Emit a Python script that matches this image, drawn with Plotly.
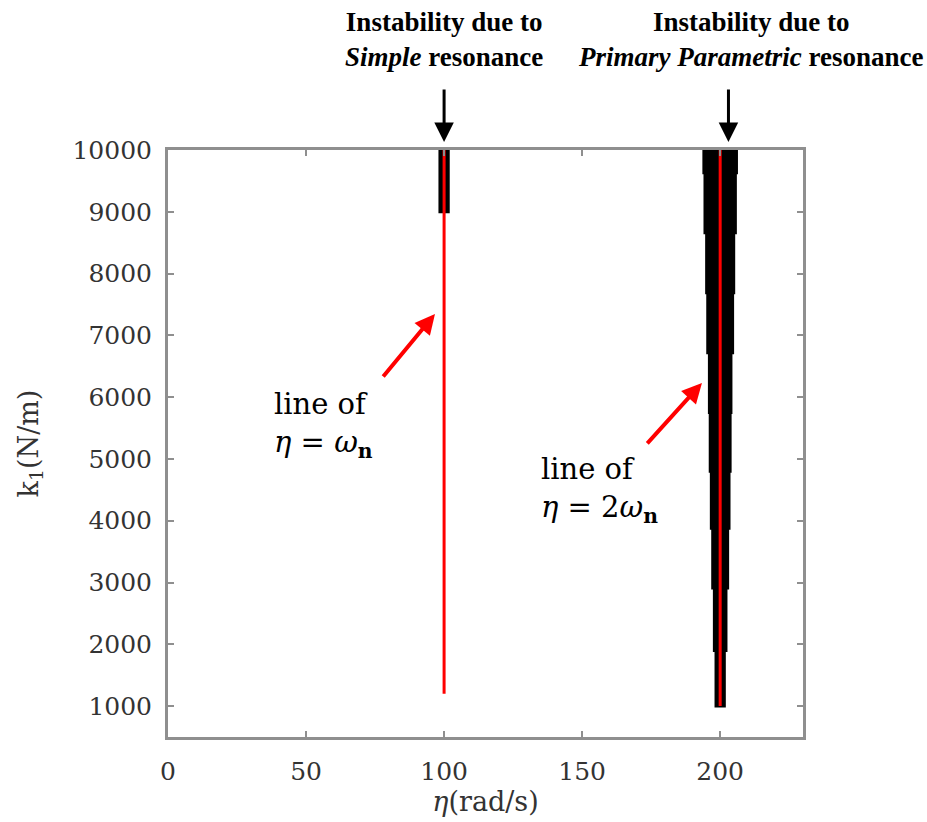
import plotly.graph_objects as go

# ---- data ----
# Primary parametric instability band around eta = 200 rad/s (stepwise taper)
k_bounds_pp = [10000, 9630, 8660, 7690, 6720, 5750, 4800, 3880, 2910, 1900, 1000]
halfwidth_pp = [6.4, 6.0, 5.4, 5.0, 4.4, 4.1, 3.7, 3.2, 2.6, 2.0]
eta_pp = 200.0

# Simple resonance instability band around eta = 100 rad/s
k_bounds_simple = [10000, 9000]
halfwidth_simple = [2.0]
eta_simple = 100.0

# Red reference lines eta = wn and eta = 2 wn
line_wn_eta = [100, 100]
line_wn_k = [1200, 10000]
line_2wn_eta = [200, 200]
line_2wn_k = [1000, 10000]

x_ticks = [0, 50, 100, 150, 200]
y_ticks = [1000, 2000, 3000, 4000, 5000, 6000, 7000, 8000, 9000, 10000]
y_ticklabels = [str(v) for v in y_ticks]

OUTLINE_CORR = 0.5  # outline stroke width in data units


def band_polygon(center, bounds, halfw):
    xs, ys = [], []
    for i, hw in enumerate(halfw):
        xs += [center + hw - OUTLINE_CORR] * 2
        ys += [bounds[i], bounds[i + 1]]
    for i in reversed(range(len(halfw))):
        xs += [center - halfw[i] + OUTLINE_CORR] * 2
        ys += [bounds[i + 1], bounds[i]]
    xs.append(xs[0])
    ys.append(ys[0])
    return xs, ys


fig = go.Figure()

for center, bounds, hw in [(eta_pp, k_bounds_pp, halfwidth_pp),
                           (eta_simple, k_bounds_simple, halfwidth_simple)]:
    px_, py_ = band_polygon(center, bounds, hw)
    fig.add_trace(go.Scatter(x=px_, y=py_, mode="lines", fill="toself",
                             fillcolor="black",
                             line=dict(color="black", width=3),
                             hoverinfo="skip", showlegend=False))

fig.add_trace(go.Scatter(x=line_wn_eta, y=line_wn_k, mode="lines",
                         line=dict(color="red", width=3), showlegend=False))
fig.add_trace(go.Scatter(x=line_2wn_eta, y=line_2wn_k, mode="lines",
                         line=dict(color="red", width=3), showlegend=False))

serif = "DejaVu Serif"
times = "Liberation Serif"

axis_common = dict(showline=True, linecolor="#8f8f8f", linewidth=3,
                   mirror="ticks", ticks="inside", ticklen=6,
                   tickcolor="#8f8f8f", tickwidth=1.5, showgrid=False,
                   zeroline=False,
                   tickfont=dict(family=serif, size=25, color="#333333"))

fig.update_layout(
    width=927, height=822,
    margin=dict(l=168, r=124, t=150, b=85),
    plot_bgcolor="white", paper_bgcolor="white",
    xaxis=dict(range=[0, 230], tickvals=x_ticks, ticklabelstandoff=10,
               title=dict(text="<i>η</i>(rad/s)",
                          font=dict(family=serif, size=27, color="#333333"),
                          standoff=4),
               **axis_common),
    yaxis=dict(range=[500, 10000], tickvals=y_ticks, ticktext=y_ticklabels,
               ticklabelstandoff=8,
               title=dict(text="k<sub>1</sub>(N/m)",
                          font=dict(family=serif, size=27, color="#333333"),
                          standoff=27),
               **axis_common),
)

annotations = [
    dict(text="<b>Instability due to<br><i>Simple</i> resonance</b>",
         x=100, xref="x", y=1.247, yref="paper", xanchor="center",
         yanchor="top", showarrow=False,
         font=dict(family=times, size=27, color="black")),
    dict(text="<b>Instability due to<br><i>Primary Parametric</i> resonance</b>",
         x=211, xref="x", y=1.247, yref="paper", xanchor="center",
         yanchor="top", showarrow=False,
         font=dict(family=times, size=27, color="black")),
    dict(text="", x=100, xref="x", y=1.0136, yref="paper", ax=0, ay=-54,
         showarrow=True, arrowhead=2, arrowsize=1.3, arrowwidth=3,
         arrowcolor="black"),
    dict(text="", x=203, xref="x", y=1.0136, yref="paper", ax=0, ay=-54,
         showarrow=True, arrowhead=2, arrowsize=1.3, arrowwidth=3,
         arrowcolor="black"),
    dict(text="", x=96.7, y=7346, ax=-53, ay=64, showarrow=True,
         arrowhead=2, arrowsize=1.0, arrowwidth=4, arrowcolor="red"),
    dict(text="", x=193.4, y=6230, ax=-56, ay=62, showarrow=True,
         arrowhead=2, arrowsize=1.0, arrowwidth=4, arrowcolor="red"),
    dict(text="line of<br><i>η</i> = <i>ω</i><sub><b>n</b></sub>",
         x=37.5, y=5550, xanchor="left", yanchor="middle", align="left",
         showarrow=False, font=dict(family=serif, size=29, color="black")),
    dict(text="line of<br><i>η</i> = 2<i>ω</i><sub><b>n</b></sub>",
         x=134.5, y=4500, xanchor="left", yanchor="middle", align="left",
         showarrow=False, font=dict(family=serif, size=29, color="black")),
]
fig.update_layout(annotations=annotations)

fig.write_html("out.html")
